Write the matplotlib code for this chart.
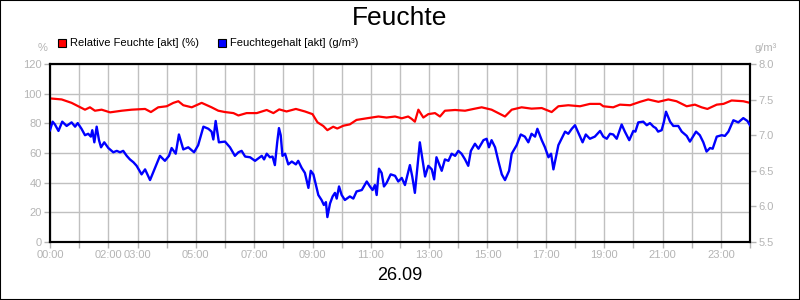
import matplotlib.pyplot as plt
from matplotlib.patches import Rectangle

plt.rcParams['font.family'] = ['Liberation Sans', 'DejaVu Sans']

# Relative Feuchte (%), left axis
rh_hours = [0.0, 0.40, 0.74, 0.97, 1.20, 1.37, 1.54, 1.77, 2.06, 2.46, 2.80, 3.26, 3.46, 3.71,
            4.0, 4.23, 4.40, 4.57, 4.86, 5.20, 5.54, 5.77, 6.0, 6.29, 6.46, 6.74, 7.09, 7.43,
            7.66, 7.86, 8.11, 8.43, 8.74, 9.0, 9.17, 9.37, 9.51, 9.71, 9.85, 10.06, 10.28,
            10.51, 10.86, 11.26, 11.54, 11.83, 12.06, 12.28, 12.40, 12.51, 12.63, 12.80,
            12.97, 13.20, 13.37, 13.54, 13.89, 14.23, 14.57, 14.80, 15.14, 15.37, 15.60,
            15.83, 16.17, 16.51, 16.86, 17.20, 17.43, 17.77, 18.17, 18.51, 18.86, 18.97,
            19.31, 19.54, 19.89, 20.23, 20.51, 20.86, 21.20, 21.48, 21.83, 22.11, 22.34,
            22.54, 22.86, 23.09, 23.37, 23.77, 24.0]
rh_values = [96.8, 96.1, 93.8, 91.5, 89.2, 90.8, 88.5, 89.2, 87.4, 88.5, 89.2, 89.7, 87.6, 90.8,
             91.5, 93.8, 94.9, 92.2, 90.8, 93.8, 90.8, 88.5, 87.6, 86.9, 85.3, 86.9, 86.9, 89.0,
             86.9, 89.4, 88.0, 89.7, 88.0, 86.2, 80.7, 78.2, 75.4, 77.7, 76.5, 78.4, 79.3,
             82.3, 83.4, 84.6, 83.9, 84.6, 83.4, 84.6, 83.0, 81.1, 89.2, 83.9,
             86.2, 86.9, 84.6, 88.5, 89.0, 88.5, 89.9, 90.8, 89.2, 86.9, 84.6,
             89.2, 90.8, 89.9, 90.3, 87.6, 91.5, 92.2, 91.5, 93.1, 93.1, 91.5,
             90.8, 92.6, 92.2, 94.5, 96.1, 94.5, 96.1, 94.9, 91.5, 92.6, 90.8,
             89.7, 92.6, 93.1, 95.4, 94.9, 93.8]

# Feuchtegehalt (g/m³), right axis
ah_hours = [0.0, 0.09, 0.17, 0.29, 0.42, 0.57, 0.74, 0.86, 0.95, 1.08, 1.20, 1.31, 1.40, 1.45,
            1.52, 1.60, 1.68, 1.75, 1.86, 2.0, 2.17, 2.29, 2.40, 2.51, 2.63, 2.74, 2.86, 2.97,
            3.14, 3.26, 3.43, 3.60, 3.77, 3.94, 4.08, 4.17, 4.31, 4.42, 4.57, 4.74, 4.94, 5.08,
            5.26, 5.43, 5.54, 5.60, 5.68, 5.79, 6.0, 6.17, 6.34, 6.46, 6.57, 6.69, 6.86, 7.03,
            7.26, 7.34, 7.43, 7.54, 7.63, 7.71, 7.79, 7.85, 7.91, 7.97, 8.06, 8.17, 8.29, 8.43,
            8.51, 8.63, 8.74, 8.86, 8.94, 9.03, 9.20, 9.31, 9.39, 9.46, 9.51, 9.60, 9.69, 9.77,
            9.83, 9.91, 10.0, 10.11, 10.28, 10.40, 10.51, 10.69, 10.86, 10.97, 11.06, 11.14,
            11.20, 11.28, 11.37, 11.45, 11.54, 11.68, 11.83, 11.94, 12.06, 12.17, 12.34, 12.42,
            12.51, 12.68, 12.86, 12.97, 13.09, 13.17, 13.25, 13.43, 13.54, 13.66, 13.77, 13.89,
            14.0, 14.11, 14.23, 14.34, 14.43, 14.57, 14.69, 14.86, 14.97, 15.05, 15.14, 15.26,
            15.37, 15.49, 15.60, 15.74, 15.83, 16.0, 16.14, 16.28, 16.40, 16.51, 16.63, 16.71,
            16.86, 16.97, 17.09, 17.18, 17.26, 17.43, 17.54, 17.66, 17.77, 17.89, 18.0, 18.15,
            18.26, 18.37, 18.51, 18.68, 18.86, 18.97, 19.09, 19.20, 19.31, 19.43, 19.60, 19.71,
            19.86, 20.0, 20.07, 20.17, 20.34, 20.46, 20.57, 20.69, 20.77, 20.85, 20.97, 21.05,
            21.12, 21.26, 21.37, 21.54, 21.66, 21.83, 21.94, 22.15, 22.28, 22.40, 22.51, 22.63,
            22.72, 22.86, 23.03, 23.14, 23.26, 23.43, 23.60, 23.77, 23.91, 24.0]
ah_values = [7.07, 7.19, 7.15, 7.06, 7.19, 7.13, 7.18, 7.12, 7.17, 7.09, 7.00, 7.02, 6.98, 7.07,
             6.90, 7.12, 6.93, 6.83, 6.90, 6.82, 6.76, 6.78, 6.76, 6.78, 6.71, 6.66, 6.62, 6.57,
             6.45, 6.52, 6.37, 6.54, 6.71, 6.64, 6.71, 6.82, 6.74, 7.01, 6.80, 6.83, 6.76, 6.86,
             7.12, 7.09, 7.05, 6.94, 7.20, 6.90, 6.91, 6.83, 6.71, 6.76, 6.78, 6.70, 6.69, 6.64,
             6.71, 6.66, 6.74, 6.69, 6.70, 6.58, 6.90, 7.10, 7.00, 6.71, 6.74, 6.59, 6.63, 6.59,
             6.64, 6.54, 6.47, 6.26, 6.50, 6.45, 6.16, 6.09, 6.02, 6.06, 5.85, 6.04, 6.14, 6.19,
             6.11, 6.28, 6.16, 6.09, 6.14, 6.11, 6.21, 6.23, 6.35, 6.28, 6.23, 6.30,
             6.16, 6.53, 6.47, 6.28, 6.33, 6.45, 6.43, 6.35, 6.40, 6.30, 6.58, 6.42,
             6.19, 6.90, 6.42, 6.57, 6.52, 6.38, 6.69, 6.50, 6.66, 6.64, 6.74, 6.71,
             6.78, 6.74, 6.66, 6.57, 6.78, 6.88, 6.81, 6.93, 6.95, 6.83, 6.93, 6.83,
             6.64, 6.45, 6.37, 6.50, 6.74, 6.86, 7.01, 6.98, 6.90, 7.02, 6.98, 7.09,
             6.93, 6.83, 6.69, 6.74, 6.52, 6.86, 6.95, 7.05, 7.02, 7.09, 7.14, 7.00,
             6.90, 7.01, 6.95, 6.98, 7.06, 6.98, 6.95, 7.02, 7.01, 6.95, 7.15, 7.05,
             6.93, 7.06, 7.05, 7.18, 7.19, 7.14, 7.17, 7.12, 7.10, 7.05, 7.07, 7.19,
             7.33, 7.19, 7.13, 7.13, 7.05, 6.99, 6.91, 7.05, 7.00, 6.90, 6.77, 6.82,
             6.81, 6.98, 7.00, 6.99, 7.05, 7.21, 7.18, 7.24, 7.20, 7.14]

hour_ticks = list(range(25))
hour_labels = ['00:00', '', '02:00', '03:00', '', '05:00', '', '07:00', '', '09:00', '',
               '11:00', '', '13:00', '', '15:00', '', '17:00', '', '19:00', '', '21:00', '',
               '23:00', '']
left_ticks = [0, 20, 40, 60, 80, 100, 120]
right_ticks = [5.5, 6.0, 6.5, 7.0, 7.5, 8.0]

grey = '#b4b4b4'

fig = plt.figure(figsize=(8, 3), dpi=100)
ax = fig.add_axes([0.0625, 0.1933, 0.875, 0.5934])
ax2 = ax.twinx()

ax.plot(rh_hours, rh_values, color='#ff0000', lw=1.6, zorder=3)
ax2.plot(ah_hours, ah_values, color='#0000ff', lw=1.7, zorder=3)

ax.set_xlim(0, 24)
ax.set_ylim(0, 120)
ax2.set_ylim(5.5, 8.0)
ax.set_xticks(hour_ticks)
ax.set_xticklabels(hour_labels)
ax.set_yticks(left_ticks)
ax.set_yticklabels([str(v) for v in left_ticks])
ax2.set_yticks(right_ticks)
ax2.set_yticklabels(['%.1f' % v for v in right_ticks])

ax.grid(True, color='#c0c0c0', lw=1)
ax.set_axisbelow(True)
for a in (ax, ax2):
    a.tick_params(colors=grey, labelcolor=grey, labelsize=8, length=4, width=1, pad=2)
    for s in a.spines.values():
        s.set_color('black')
        s.set_linewidth(1.5)

fig.text(0.5, 0.94, 'Feuchte', ha='center', va='center', fontsize=19)
fig.text(0.5, 0.083, '26.09', ha='center', va='center', fontsize=13)
fig.text(0.053, 0.84, '%', ha='center', va='center', fontsize=8, color=grey)
fig.text(0.957, 0.84, 'g/m³', ha='center', va='center', fontsize=8, color=grey)

# legend boxes
fig.patches.append(Rectangle((0.0725, 0.843), 0.0095, 0.027, transform=fig.transFigure,
                             facecolor='#ff0000', edgecolor='black', lw=0.8))
fig.text(0.087, 0.855, 'Relative Feuchte [akt] (%)', va='center', fontsize=8)
fig.patches.append(Rectangle((0.2725, 0.843), 0.0095, 0.027, transform=fig.transFigure,
                             facecolor='#0000ff', edgecolor='black', lw=0.8))
fig.text(0.287, 0.855, 'Feuchtegehalt [akt] (g/m³)', va='center', fontsize=8)

# outer frame
fig.patches.append(Rectangle((0, 0), 1, 1, transform=fig.transFigure, fill=False,
                             edgecolor='black', lw=1.5))

plt.savefig('out.png', dpi=100)
